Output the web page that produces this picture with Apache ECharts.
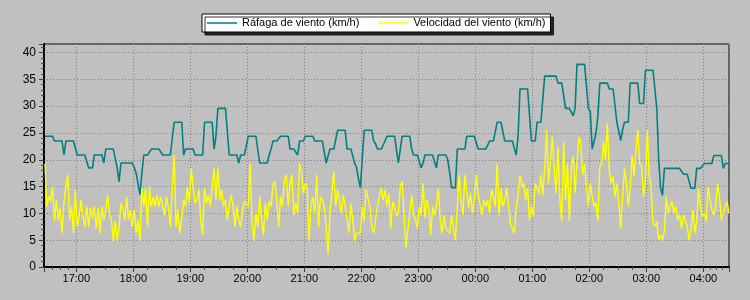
<!DOCTYPE html>
<html>
<head>
<meta charset="utf-8">
<script src="https://cdn.jsdelivr.net/npm/echarts@6/dist/echarts.min.js"></script>
<style>
html, body { margin: 0; padding: 0; background: #c0c0c0; }
#chart { width: 750px; height: 300px; }
</style>
</head>
<body>
<div id="chart"></div>
<script>
// ---- data ----
const seriesNames = ['Ráfaga de viento (km/h)', 'Velocidad del viento (km/h)'];
const firstSample = [2024, 0, 1, 16, 27];   // 16:27
const stepMinutes = 2;
const axisStart = [2024, 0, 1, 16, 26];     // 16:26
const axisEnd = [2024, 0, 2, 4, 27];        // 04:27 next day
const yMin = 0, yMax = 41.6, yStep = 5;

const gust = [
24.4,24.4,24.4,24.4,24.4, 23.5,23.5,23.5,23.5,23.5, 20.9,
23.5,23.5,23.5,23.5,23.5,23.5, 20.9,20.9,20.9,20.9,20.9,20.9,
18.5,18.5,18.5, 20.9,20.9,20.9,20.9,20.9, 19.4,
22.0,22.0,22.0,22.0,22.0,22.0, 18.5, 15.9,
19.4,19.4,19.4,19.4,19.4,19.4,19.4, 18.5, 17.5,17.5, 13.5, 17.5,
20.9,20.9,20.9,20.9, 22.0,22.0,22.0,22.0,22.0,22.0,
20.9,20.9,20.9,20.9,20.9,20.9, 27.0,27.0,27.0,27.0,27.0, 20.9,
22.0,22.0,22.0,22.0,22.0, 20.9,20.9,20.9,20.9,20.9,
27.0,27.0,27.0,27.0,27.0, 22.0, 24.4, 29.6,29.6,29.6,29.6,29.6,29.6,
20.9,20.9,20.9,20.9,20.9, 19.4, 20.9,20.9,20.9,20.9,
24.4,24.4,24.4,24.4,24.4,24.4, 19.4,19.4,19.4,19.4,19.4, 20.9, 22.0,
23.5,23.5,23.5,23.5, 24.4,24.4,24.4,24.4,24.4, 22.0,22.0,22.0,22.0, 20.9,
23.5,23.5,23.5, 24.4,24.4,24.4,24.4,24.4, 23.5,23.5,23.5,23.5,23.5,23.5,
19.4,19.4, 22.0,22.0,22.0,22.0, 25.5,25.5,25.5,25.5,25.5, 22.0,22.0,22.0,22.0,
19.4, 18.5, 16.5, 14.8,14.8, 25.5,25.5,25.5,25.5,25.5, 23.5, 23.0,
22.0,22.0,22.0,22.0, 23.5, 24.4,24.4,24.4,24.4,24.4,24.4, 19.4,19.4,
24.4,24.4,24.4,24.4,24.4, 22.0, 20.9,20.9,20.9,20.9, 18.5, 19.4,
20.9,20.9,20.9,20.9,20.9,20.9, 18.5, 20.9,20.9,20.9,20.9,20.9, 20.0, 17.6,
14.8,14.8,14.8, 22.0,22.0,22.0,22.0,22.0, 24.4,24.4,24.4,24.4,24.4,24.4,
22.0,22.0,22.0,22.0,22.0,22.0, 23.5,23.5,23.5,23.5, 27.0,27.0,27.0,27.0,
23.5,23.5,23.5,23.5,23.5,23.5, 20.9, 24.4, 33.2,33.2,33.2,33.2,33.2,33.2,
23.5,23.5,23.5, 27.0,27.0,27.0,27.0, 35.6,35.6,35.6,35.6,35.6,35.6,35.6,
34.3,34.3,34.3,34.3, 29.6,29.6,29.6,29.6, 28.2, 29.6,
37.8,37.8,37.8,37.8,37.8,37.8, 29.6, 29.0, 22.0,22.0, 25.0, 28.2,
34.3,34.3,34.3,34.3,34.3, 33.2,33.2,33.2,33.2, 27.0,27.0, 23.6, 25.6,
27.0,27.0,27.0, 34.3,34.3,34.3,34.3,34.3, 30.5,30.5,30.5,
36.7,36.7,36.7,36.7,36.7,36.7, 29.6, 20.0, 14.7, 13.4,
18.4,18.4,18.4,18.4,18.4,18.4,18.4,18.4,18.4,18.4, 17.3,17.3,17.3,17.3,
14.7,14.7,14.7, 18.4,18.4,18.4,18.4, 19.3,19.3,19.3,19.3,19.3,
20.8,20.8,20.8,20.8,20.8, 18.4, 19.3,19.3,19.3
];

const speed = [
19.3,11.3,13.2,12.2,15.0,8.5,12.5,8.8,11.0,6.3,
12.2,15.0,17.2,8.8,11.3,6.3,14.4,7.5,9.4,12.5,
9.4,7.5,11.3,7.5,11.0,9.1,11.3,7.2,11.0,6.3,
11.3,8.8,10.6,13.4,10.0,8.8,4.9,8.5,4.9,7.5,
11.9,11.0,8.8,13.1,8.8,10.6,7.5,10.6,6.3,8.8,
4.9,14.7,11.3,14.7,7.5,15.0,11.3,13.1,11.3,13.4,
11.3,13.1,11.3,9.7,13.1,11.0,7.5,14.4,20.9,7.5,
10.6,6.3,9.1,12.5,11.3,15.0,11.9,18.4,15.0,11.9,
12.5,14.4,8.8,6.0,14.7,11.9,13.4,
11.3,15.0,18.4,12.5,18.4,12.5,14.4,11.3,12.5,8.8,
11.6,13.4,11.3,7.5,11.3,8.8,7.5,10.6,12.2,12.5,
11.3,19.3,8.5,4.9,10.0,7.5,13.1,8.8,6.0,11.9,
8.8,12.2,11.3,15.3,16.0,12.5,7.5,13.1,11.3,16.0,
17.2,11.3,15.6,17.2,9.7,11.9,10.0,19.3,17.8,13.7,
15.6,15.0,4.9,11.3,13.1,10.0,17.2,7.5,13.1,12.5,
11.3,7.5,2.4,10.0,13.7,17.8,11.3,14.4,12.5,10.0,
13.4,11.3,8.8,6.3,11.9,8.8,4.9,6.3,6.0,6.3,
11.3,8.5,14.4,14.7,11.3,7.5,6.3,8.8,11.3,13.1,
14.7,12.5,14.4,11.3,13.7,
7.2,12.2,11.3,9.5,10.0,15.0,15.9,9.7,3.5,6.9,
7.2,13.4,9.7,8.8,7.2,11.3,9.7,15.6,9.1,12.5,
11.0,6.0,11.3,9.7,11.3,14.7,8.8,6.3,9.7,7.2,
7.2,6.3,9.7,7.2,5.0,11.3,17.2,12.2,9.7,17.2,
17.2,11.0,13.7,10.0,12.5,17.2,13.4,13.7,9.7,12.5,
11.3,12.5,10.0,14.4,13.1,11.3,19.4,9.7,14.7,11.3,
12.5,14.7,11.3,8.1,8.4,6.3,11.0,13.4,17.2,15.0,
15.6,12.5,14.7,8.8,11.3,9.4,15.6,15.6,13.7,17.2,
13.4,18.5,25.6,15.6,19.6,24.3,18.5,13.7,22.4,12.5,
8.5,23.4,12.5,19.3,8.5,18.7,20.6,13.8,19.3,24.3,
23.1,17.2,19.3,15.0,11.3,15.6,13.1,11.3,11.9,8.5,
18.7,19.3,23.4,19.9,26.8,18.1,15.6,16.9,13.1,15.6,
11.9,7.2,13.1,18.4,15.6,11.3,14.7,20.9,16.9,21.8,
25.6,19.3,18.7,13.1,16.2,25.6,16.9,15.0,8.2,7.6,
8.5,5.0,6.0,5.0,6.6,13.1,10.0,11.3,12.2,10.0,
11.3,8.8,9.7,7.2,9.7,9.7,7.6,5.0,6.9,10.6,
6.3,8.5,14.7,11.3,9.4,10.0,8.5,15.0,12.5,10.6,
9.7,11.3,15.6,13.1,8.8,10.0,11.3,12.2,10.0
];

// ---- build ----
function mkDate(a) { return new Date(a[0], a[1], a[2], a[3], a[4]).getTime(); }
const t0 = mkDate(firstSample);
const times = speed.map((_, i) => t0 + i * stepMinutes * 60000);
const gustData = gust.map((v, i) => [times[i], v]);
const speedData = speed.map((v, i) => [times[i], v]);
function pad(n) { return (n < 10 ? '0' : '') + n; }

const FONT = 'Liberation Sans, Arial, sans-serif';
const chart = echarts.init(document.getElementById('chart'), null, { renderer: 'canvas' });
chart.setOption({
  animation: false,
  backgroundColor: '#c0c0c0',
  textStyle: { fontFamily: FONT },
  legend: {
    left: 202, top: 14,
    padding: [2, 5, 2, 5],
    icon: 'rect',
    itemWidth: 30, itemHeight: 1.5, itemGap: 19,
    backgroundColor: '#ffffff', borderColor: '#000000', borderWidth: 1,
    shadowColor: 'rgba(0,0,0,0.8)', shadowOffsetX: 3, shadowOffsetY: 3, shadowBlur: 0,
    textStyle: { fontFamily: FONT, fontSize: 11, color: '#000', lineHeight: 14 },
    data: seriesNames
  },
  grid: {
    left: 44, right: 21, top: 44, bottom: 33,
    show: true, borderColor: '#000', borderWidth: 1, backgroundColor: 'transparent'
  },
  xAxis: {
    type: 'time',
    min: mkDate(axisStart), max: mkDate(axisEnd),
    minInterval: 3600000, maxInterval: 3600000,
    axisLine: { show: true, lineStyle: { color: '#000', width: 2 } },
    axisTick: { show: true, length: 5, lineStyle: { color: '#404040' } },
    minorTick: { show: true, splitNumber: 4, length: 3, lineStyle: { color: '#505050' } },
    splitLine: { show: true, lineStyle: { color: '#808080', type: [1, 2] } },
    axisLabel: {
      fontFamily: FONT, fontSize: 11, color: '#000', margin: 6,
      showMinLabel: false, showMaxLabel: false,
      formatter: function (v) { const d = new Date(v); return pad(d.getHours()) + ':' + pad(d.getMinutes()); }
    }
  },
  yAxis: {
    type: 'value', min: yMin, max: yMax, interval: yStep,
    axisLine: { show: true, lineStyle: { color: '#000', width: 2 } },
    axisTick: { show: true, length: 5, lineStyle: { color: '#404040' } },
    minorTick: { show: true, splitNumber: 5, length: 3, lineStyle: { color: '#505050' } },
    splitLine: { show: true, lineStyle: { color: '#808080', type: [1, 2] } },
    axisLabel: { fontFamily: FONT, fontSize: 12, color: '#000', margin: 8, showMaxLabel: false }
  },
  series: [
    {
      name: seriesNames[0], type: 'line', data: gustData,
      symbol: 'none', showSymbol: false,
      lineStyle: { color: '#008080', width: 1.6 }, itemStyle: { color: '#008080' }
    },
    {
      name: seriesNames[1], type: 'line', data: speedData,
      symbol: 'none', showSymbol: false,
      lineStyle: { color: '#ffff00', width: 1.4 }, itemStyle: { color: '#ffff00' }
    }
  ]
});
</script>
</body>
</html>
